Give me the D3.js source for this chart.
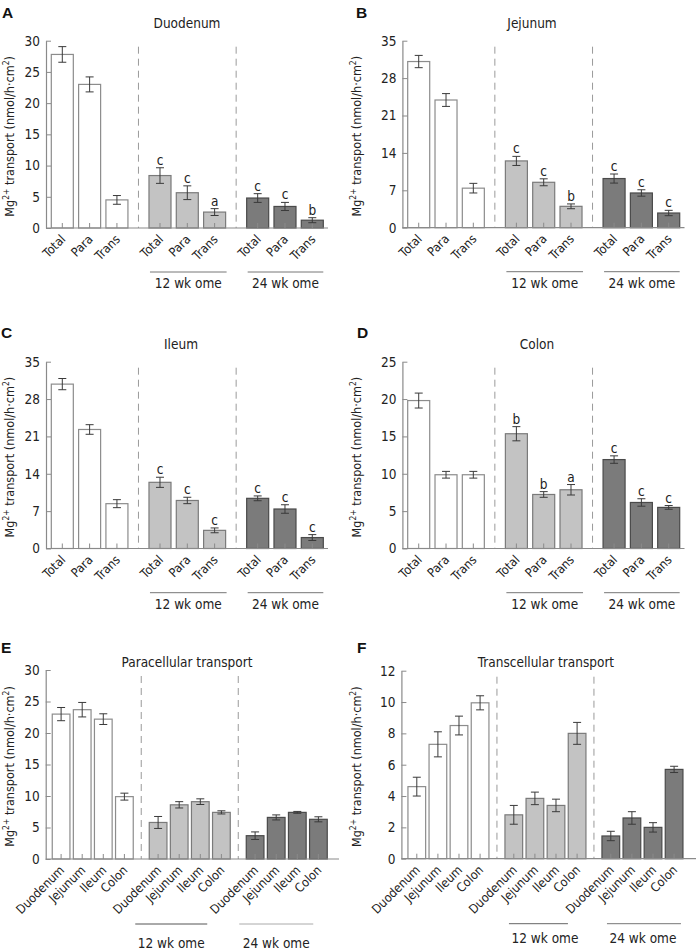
<!DOCTYPE html>
<html><head><meta charset="utf-8">
<script src="https://cdn.jsdelivr.net/npm/d3@7"></script>
<style>
html,body{margin:0;padding:0;background:#fff;}
svg{display:block;}
text{font-family:"DejaVu Sans Condensed","DejaVu Sans",sans-serif;font-stretch:condensed;fill:#222;}
</style></head><body>
<svg id="chart" width="696" height="952"></svg>
<script>
// ---------- DATA ----------
const groupLabels = ["Control", "12 wk ome", "24 wk ome"];
const transportCats = ["Total", "Para", "Trans"];
const segmentCats = ["Duodenum", "Jejunum", "Ileum", "Colon"];

const duodenumMean = [27.8, 23.0, 4.5, 8.4, 5.65, 2.55, 4.8, 3.45, 1.25];
const duodenumSEM  = [1.25, 1.2, 0.7, 1.25, 1.1, 0.55, 0.7, 0.65, 0.4];
const duodenumSig  = ["", "", "", "c", "c", "a", "c", "c", "b"];
const duodenumTicks = [0, 5, 10, 15, 20, 25, 30];

const jejunumMean = [31.1, 23.9, 7.4, 12.5, 8.5, 4.0, 9.2, 6.5, 2.75];
const jejunumSEM  = [1.15, 1.2, 0.9, 0.85, 0.65, 0.45, 0.85, 0.6, 0.5];
const jejunumSig  = ["", "", "", "c", "c", "b", "c", "c", "c"];
const jejunumTicks = [0, 7, 14, 21, 28, 35];

const ileumMean = [30.8, 22.3, 8.4, 12.4, 9.0, 3.4, 9.4, 7.4, 2.05];
const ileumSEM  = [1.05, 0.9, 0.75, 0.95, 0.6, 0.45, 0.45, 0.8, 0.55];
const ileumSig  = ["", "", "", "c", "c", "c", "c", "c", "c"];
const ileumTicks = [0, 7, 14, 21, 28, 35];

const colonMean = [19.8, 9.87, 9.87, 15.36, 7.23, 7.86, 11.9, 6.16, 5.5];
const colonSEM  = [1.0, 0.45, 0.45, 0.95, 0.38, 0.7, 0.5, 0.5, 0.25];
const colonSig  = ["", "", "", "b", "b", "a", "c", "c", "c"];
const colonTicks = [0, 5, 10, 15, 20, 25];

const paraMean = [23.0, 23.7, 22.2, 9.9, 5.8, 8.6, 9.1, 7.4, 3.7, 6.6, 7.4, 6.3];
const paraSEM  = [1.05, 1.15, 0.85, 0.55, 0.95, 0.5, 0.45, 0.25, 0.6, 0.4, 0.15, 0.4];
const paraTicks = [0, 5, 10, 15, 20, 25, 30];

const transMean = [4.6, 7.3, 8.5, 9.95, 2.8, 3.85, 3.4, 8.0, 1.45, 2.6, 2.0, 5.7];
const transSEM  = [0.6, 0.8, 0.6, 0.45, 0.6, 0.4, 0.4, 0.7, 0.3, 0.4, 0.3, 0.2];
const transTicks = [0, 2, 4, 6, 8, 10, 12];

// ---------- LAYOUT ----------
const L3 = {bw: 282.6, bOff: 0, gpad: 0.107, bpad: 0.194, ul: [[1, 1], [1, 0]], tdx: [0, 0], ulColor: ["#777", "#777"]};
const L4 = {bw: 281.8, bOff: 3.15, gpad: 0.095, bpad: 0.161};

const panels = [
  Object.assign({}, L3, {letter: "A", lx: 2, ly: 18, title: "Duodenum", tx: 187, ty: 28, cats: transportCats,
    mean: duodenumMean, sem: duodenumSEM, sig: duodenumSig, ticks: duodenumTicks,
    ax: 46, base: 228, top: 40.7, axEnd: 328, ylx: 14, ulDy: 44, glDy: 60}),
  Object.assign({}, L3, {letter: "B", lx: 356, ly: 18, title: "Jejunum", tx: 532, ty: 28, cats: transportCats,
    mean: jejunumMean, sem: jejunumSEM, sig: jejunumSig, ticks: jejunumTicks,
    ax: 402.4, base: 227.7, top: 40.7, axEnd: 684.5, ylx: 361, ulDy: 44, glDy: 60}),
  Object.assign({}, L3, {letter: "C", lx: 1, ly: 338, title: "Ileum", tx: 181, ty: 349.3, cats: transportCats,
    mean: ileumMean, sem: ileumSEM, sig: ileumSig, ticks: ileumTicks,
    ax: 46, base: 548.5, top: 361.7, axEnd: 328, ylx: 14, ulDy: 44.2, glDy: 60.2}),
  Object.assign({}, L3, {letter: "D", lx: 357, ly: 338, title: "Colon", tx: 537, ty: 349.3, cats: transportCats,
    mean: colonMean, sem: colonSEM, sig: colonSig, ticks: colonTicks,
    ax: 402.4, base: 548.5, top: 361.7, axEnd: 684.5, ylx: 361, ulDy: 44.2, glDy: 60.2}),
  Object.assign({}, L4, {letter: "E", lx: 1, ly: 653, title: "Paracellular transport", tx: 187, ty: 666.5, cats: segmentCats,
    mean: paraMean, sem: paraSEM, sig: null, ticks: paraTicks,
    ax: 45.7, base: 859, top: 670, axEnd: 339, ylx: 14, ulDy: 65, glDy: 89,
    ul: [[-14, -23], [-7, -14]], tdx: [0, 0], ulColor: ["#555", "#aaa"]}),
  Object.assign({}, L4, {letter: "F", lx: 357, ly: 653, title: "Transcellular transport", tx: 546, ty: 666.5, cats: segmentCats,
    mean: transMean, sem: transSEM, sig: null, ticks: transTicks,
    ax: 401.4, base: 858.7, top: 670.7, axEnd: 696, ylx: 361, ulDy: 65, glDy: 84.3,
    ul: [[4, -18], [5, -2]], tdx: [6.5, -1], ulColor: ["#666", "#777"]})
];

const fills = ["#ffffff", "#c3c3c3", "#7b7b7b"];
const strokes = ["#8c8c8c", "#7a7a7a", "#4a4a4a"];
const axisColor = "#8a8a8a";

const svg = d3.select("#chart");

panels.forEach(p => {
  const g = svg.append("g");
  const n = p.cats.length;
  const y = d3.scaleLinear().domain([0, d3.max(p.ticks)]).range([p.base, p.top]);
  const x0 = d3.scaleBand().domain(groupLabels)
    .range([p.ax + p.bOff, p.ax + p.bOff + p.bw]).paddingInner(p.gpad).paddingOuter(0);
  const x1 = d3.scaleBand().domain(p.cats).range([0, x0.bandwidth()]).padding(p.bpad);
  const bw = x1.bandwidth();
  const rows = p.mean.map((m, i) => ({
    gi: Math.floor(i / n), group: groupLabels[Math.floor(i / n)], cat: p.cats[i % n],
    mean: m, sem: p.sem[i], sig: p.sig ? p.sig[i] : ""
  }));
  const cx = d => x0(d.group) + x1(d.cat) + bw / 2;

  // panel letter
  g.append("text").attr("x", p.lx).attr("y", p.ly).text(p.letter)
    .style("font-family", "'Liberation Sans', Arial, sans-serif").style("font-stretch", "normal")
    .style("font-weight", "900").style("font-size", "15.5px").style("fill", "#111");
  // title
  g.append("text").attr("x", p.tx).attr("y", p.ty).attr("text-anchor", "middle")
    .style("font-size", "13.5px").text(p.title);

  // dashed separators
  for (let k = 0; k < 2; k++) {
    const a = x0(groupLabels[k]) + x1(p.cats[n - 1]) + bw / 2;
    const b = x0(groupLabels[k + 1]) + x1(p.cats[0]) + bw / 2;
    g.append("line").attr("x1", (a + b) / 2).attr("x2", (a + b) / 2)
      .attr("y1", p.top + 6).attr("y2", p.base)
      .attr("stroke", "#9a9a9a").attr("stroke-width", 1).attr("stroke-dasharray", "7,5");
  }

  // bars
  g.append("g").selectAll("rect").data(rows).join("rect")
    .attr("x", d => x0(d.group) + x1(d.cat))
    .attr("y", d => y(d.mean))
    .attr("width", bw)
    .attr("height", d => y(0) - y(d.mean))
    .attr("fill", d => fills[d.gi])
    .attr("stroke", d => strokes[d.gi])
    .attr("stroke-width", 1.2);

  // x axis per group (inward ticks, rotated labels)
  groupLabels.forEach(gl => {
    const ag = g.append("g").attr("transform", `translate(${x0(gl)},${p.base})`)
      .call(d3.axisBottom(x1).tickSizeInner(-5).tickSizeOuter(0));
    ag.select(".domain").remove();
    ag.selectAll(".tick line").attr("stroke", axisColor);
    ag.selectAll(".tick text")
      .attr("x", 0).attr("y", 0).attr("dy", null)
      .attr("text-anchor", "end")
      .attr("transform", "translate(4,12) rotate(-45)")
      .attr("font-family", null).attr("font-size", null)
      .style("font-size", "12.5px").style("fill", "#222");
    ag.attr("font-family", null).attr("font-size", null);
  });
  // x baseline
  g.append("line").attr("x1", p.ax).attr("x2", p.axEnd).attr("y1", p.base).attr("y2", p.base)
    .attr("stroke", axisColor).attr("stroke-width", 1.2);

  // y axis
  const yg = g.append("g").attr("transform", `translate(${p.ax},0)`)
    .call(d3.axisLeft(y).tickValues(p.ticks).tickSizeInner(-5).tickSizeOuter(0).tickPadding(6));
  yg.attr("font-family", null).attr("font-size", null);
  yg.select(".domain").attr("stroke", axisColor).attr("stroke-width", 1.2);
  yg.selectAll(".tick line").attr("stroke", axisColor);
  yg.selectAll(".tick text").style("font-size", "13.5px").style("fill", "#222");

  // y label
  const cy = (p.base + p.top) / 2 + 2;
  const yl = g.append("text").attr("transform", `translate(${p.ylx},${cy}) rotate(-90)`)
    .attr("text-anchor", "middle").style("font-size", "12.5px");
  yl.append("tspan").text("Mg");
  yl.append("tspan").attr("dy", -5).style("font-size", "8.5px").text("2+");
  yl.append("tspan").attr("dy", 5).text(" transport (nmol/h·cm");
  yl.append("tspan").attr("dy", -5).style("font-size", "8.5px").text("2");
  yl.append("tspan").attr("dy", 5).text(")");

  // error bars
  const eg = g.append("g").attr("stroke", "#3a3a3a").attr("stroke-width", 1);
  rows.forEach(d => {
    const x = cx(d), yt = y(d.mean + d.sem), yb = y(d.mean - d.sem);
    eg.append("line").attr("x1", x).attr("x2", x).attr("y1", yt).attr("y2", yb);
    eg.append("line").attr("x1", x - 4).attr("x2", x + 4).attr("y1", yt).attr("y2", yt);
    eg.append("line").attr("x1", x - 4).attr("x2", x + 4).attr("y1", yb).attr("y2", yb);
  });

  // significance letters
  g.append("g").selectAll("text").data(rows.filter(d => d.sig)).join("text")
    .attr("x", cx).attr("y", d => y(d.mean + d.sem) - 3)
    .attr("text-anchor", "middle").style("font-size", "13.5px").text(d => d.sig);

  // group underlines and labels
  [1, 2].forEach((gi, k) => {
    const gl = groupLabels[gi];
    const gx0 = x0(gl) + x1(p.cats[0]) + p.ul[k][0];
    const gx1 = x0(gl) + x1(p.cats[n - 1]) + bw + p.ul[k][1];
    g.append("line").attr("x1", gx0).attr("x2", gx1)
      .attr("y1", p.base + p.ulDy).attr("y2", p.base + p.ulDy)
      .attr("stroke", p.ulColor[k]).attr("stroke-width", 1);
    g.append("text").attr("x", (gx0 + gx1) / 2 + p.tdx[k]).attr("y", p.base + p.glDy)
      .attr("text-anchor", "middle").style("font-size", "13.5px").text(gl);
  });
});
</script>
</body></html>
